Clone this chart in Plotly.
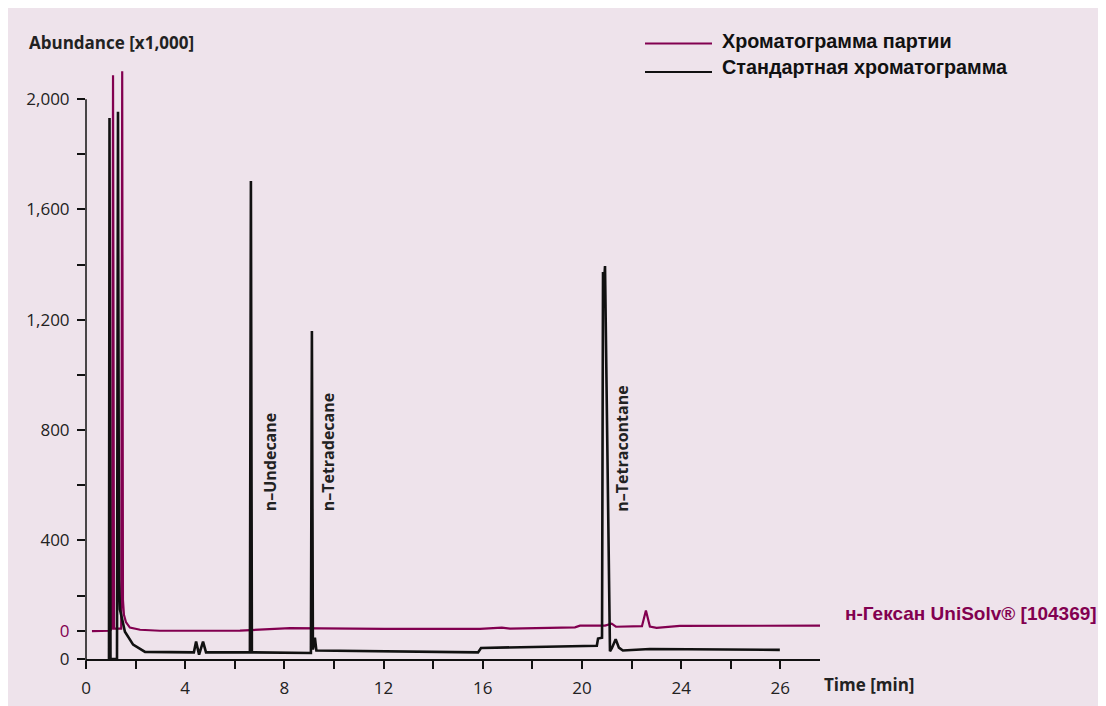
import plotly.graph_objects as go
import numpy as np

# ---------------- data ----------------
# Standard chromatogram (black), abundance relative to its own baseline zero
time_std = [0.927, 0.948, 0.988, 1.25, 1.29, 1.33, 1.37, 1.57, 1.90, 2.38,
            4.35, 4.44, 4.56, 4.72, 4.84, 6.61, 6.65, 6.69,
            9.07, 9.11, 9.15, 9.23, 9.29, 12.66, 15.81, 15.93, 18.31,
            20.60, 20.65, 20.81, 20.85, 20.89, 20.93, 21.13, 21.21, 21.36,
            21.49, 21.65, 22.74, 24.76, 27.98]
abund_std = [0, 1962, 0, 0, 1984, 287, 179, 99, 52, 26,
             24, 63, 16, 63, 24, 24, 1733, 24,
             22, 1189, 34, 77, 31, 28, 24, 40, 45,
             48, 74, 77, 1403, 1356, 1425, 28, 40, 72,
             41, 31, 36, 35, 33]

# Batch chromatogram (purple), abundance relative to its own baseline zero
time_batch = [0.24, 0.97, 1.05, 1.09, 1.13, 1.42, 1.46, 1.49, 1.53, 1.61, 1.77,
              2.18, 2.98, 4.60, 6.21, 8.23, 9.84, 12.02, 15.89, 16.77, 17.10,
              19.72, 19.92, 20.93, 21.20, 21.37, 22.42, 22.58, 22.74, 23.01,
              23.95, 29.6]
abund_batch = [1, 2.5, 10, 2017, 10, 10, 2031, 115, 60, 34, 14,
               6, 2.5, 4, 3, 12, 10, 9, 9, 14, 10,
               15, 21, 21, 28, 17, 19, 76, 18, 13,
               20, 21]

# Peak labels
peak_names = ["n\u2013Undecane", "n\u2013Tetradecane", "n\u2013Tetracontane"]
peak_label_x = [7.42, 9.76, 21.61]

# Axis ticks
x_tickvals = [0, 2, 4, 6, 8, 10, 12, 14, 16, 18, 20, 22, 24, 26, 28]
x_ticktext = ["0", "", "4", "", "8", "", "12", "", "16", "", "20", "", "24", "", "26"]
y_tickvals = [2000, 1800, 1600, 1400, 1200, 1000, 800, 600, 400, 200]
y_ticktext = ["2,000", "", "1,600", "", "1,200", "", "800", "", "400", ""]

series_names = ["Хроматограмма партии", "Стандартная хроматограмма"]
sample_label = "н-Гексан UniSolv® [104369]"

# ---------------- styling / layout ----------------
BG = "#EEE3EB"
PURPLE = "#820050"
BLACK = "#111111"
TXT = "#222222"
STD_ZERO = -30     # vertical offset of the black trace baseline on the scale
BATCH_ZERO = 70    # vertical offset of the purple trace baseline on the scale

OFF = 8            # page body margin
W, H = 1106, 706
# plot area in screen pixels
SL, SR, ST, SB = 86, 820, 43.8, 659.3
ML, MT = SL - OFF, ST - OFF
MR = W - (SR - OFF)
MB = H - (SB - OFF)
PW, PH = SR - SL, SB - ST
Y0, Y1 = -30, 2200


def px(xs):
    return (xs - SL) / PW


def py(ys):
    return (SB - ys) / PH


def yscale_paper(v):
    return (v - Y0) / (Y1 - Y0)


fig = go.Figure()
fig.add_trace(go.Scatter(
    x=time_batch, y=np.array(abund_batch) + BATCH_ZERO, mode="lines",
    line=dict(color=PURPLE, width=2.2), name=series_names[0], showlegend=False,
    hoverinfo="skip"))
fig.add_trace(go.Scatter(
    x=time_std, y=np.array(abund_std) + STD_ZERO, mode="lines",
    line=dict(color=BLACK, width=2.6), name=series_names[1], showlegend=False,
    hoverinfo="skip"))

y_all_vals = y_tickvals + [BATCH_ZERO, STD_ZERO]
y_all_text = y_ticktext + [f'<span style="color:{PURPLE}">0</span>', "0"]

fig.update_layout(
    width=W, height=H,
    margin=dict(l=ML, r=MR, t=MT, b=MB, pad=0),
    paper_bgcolor=BG, plot_bgcolor=BG,
    font=dict(family="Open Sans", size=17, color=TXT),
    xaxis=dict(range=[0, 29.6], showgrid=False, zeroline=False,
               showline=True, linecolor=BLACK, linewidth=1.5,
               tickmode="array", tickvals=x_tickvals, ticktext=x_ticktext,
               ticks="outside", ticklen=8, tickwidth=1.5, tickcolor=BLACK,
               ticklabelstandoff=5,
               tickfont=dict(family="Open Sans", size=17, color=TXT)),
    yaxis=dict(range=[Y0, Y1], showgrid=False, zeroline=False,
               showline=False,
               tickmode="array", tickvals=y_all_vals, ticktext=y_all_text,
               ticks="outside", ticklen=8, tickwidth=1.5, tickcolor=BLACK,
               ticklabelstandoff=4,
               tickfont=dict(family="Open Sans", size=17, color=TXT)),
)

# y axis line (ends at 2,000 and runs slightly below the x axis)
fig.add_shape(type="line", xref="paper", yref="paper",
              x0=0, x1=0, y0=py(668), y1=yscale_paper(2000),
              line=dict(color=BLACK, width=1.5))

# axis titles
fig.add_annotation(text="Abundance [x1,000]", xref="paper", yref="paper",
                   x=px(27), y=py(42), xanchor="left", yanchor="middle",
                   showarrow=False,
                   font=dict(family="Open Sans", size=17, color=TXT, weight="bold"))
fig.add_annotation(text="Time [min]", xref="paper", yref="paper",
                   x=px(822), y=py(685), xanchor="left", yanchor="middle",
                   showarrow=False,
                   font=dict(family="Open Sans", size=17, color=TXT, weight="bold"))

# peak labels (rotated, bottom edge at screen y = 512)
for name, xv in zip(peak_names, peak_label_x):
    fig.add_annotation(text=name, x=xv, y=py(514), xref="x", yref="paper",
                       textangle=-90, xanchor="center", yanchor="bottom",
                       showarrow=False,
                       font=dict(family="Open Sans", size=16, color=TXT, weight="bold"))

# manual legend
leg_rows = [(43.3, 40.5, PURPLE), (71.7, 66.5, BLACK)]
for (ly, ty, col), name in zip(leg_rows, series_names):
    fig.add_shape(type="line", xref="paper", yref="paper",
                  x0=px(645), x1=px(712), y0=py(ly), y1=py(ly),
                  line=dict(color=col, width=2))
    fig.add_annotation(text=name, xref="paper", yref="paper",
                       x=px(720), y=py(ty), xanchor="left", yanchor="middle",
                       showarrow=False,
                       font=dict(family="Liberation Sans", size=19.8, color="#111111",
                                 weight="bold"))

# sample label
fig.add_annotation(text=sample_label, xref="paper", yref="paper",
                   x=px(843), y=py(614), xanchor="left", yanchor="middle",
                   showarrow=False,
                   font=dict(family="Liberation Sans", size=19, color=PURPLE,
                             weight="bold"))

fig.write_html("out.html")
